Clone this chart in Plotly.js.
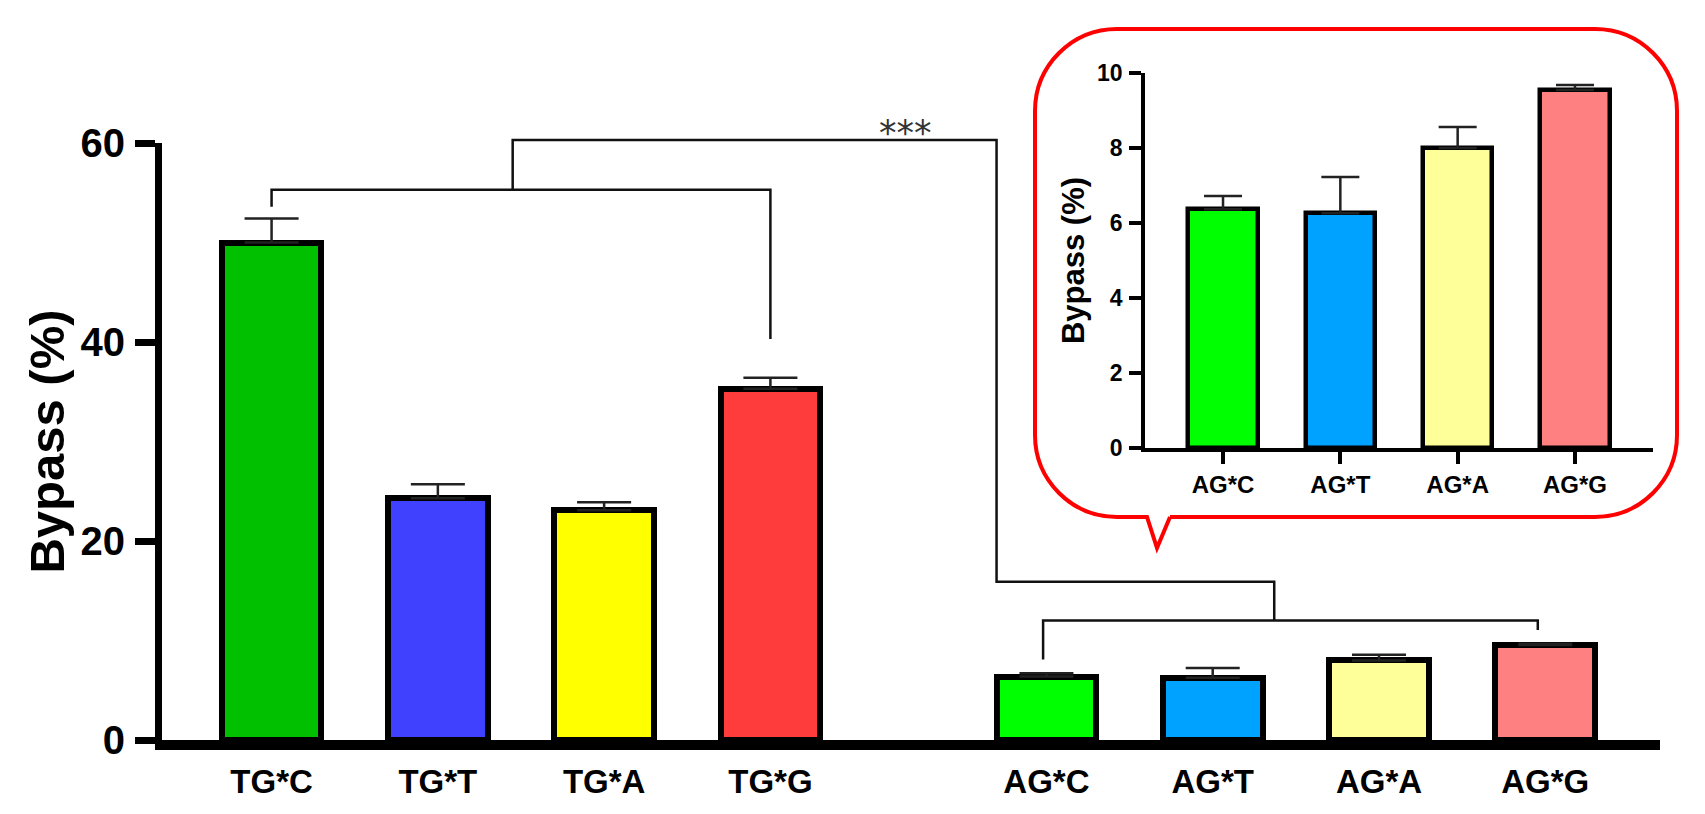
<!DOCTYPE html>
<html>
<head>
<meta charset="utf-8">
<script src="https://cdn.plot.ly/plotly-3.0.1.min.js"></script>
<style>
  html, body { margin: 0; padding: 0; background: #fff; }
  #graph { width: 1705px; height: 814px; }
</style>
</head>
<body>
<div id="graph"></div>
<script>
// values
var tgCats = ['TG*C', 'TG*T', 'TG*A', 'TG*G'];
var agCats = ['AG*C', 'AG*T', 'AG*A', 'AG*G'];
var tgVals = [50.0, 24.3, 23.1, 35.3];
var tgErr = [2.4, 1.4, 0.8, 1.1];
var agVals = [6.37, 6.26, 8.0, 9.55];
var agErr = [0.35, 0.97, 0.56, 0.13];
var tgColors = ['#00c000', '#4040ff', '#ffff00', '#ff3c3c'];
var agColors = ['#00ff00', '#00a2ff', '#ffff99', '#ff8080'];
var yTicks = [0, 20, 40, 60];
var insetTicks = [0, 2, 4, 6, 8, 10];

var W = 1705, H = 814;
var FONT = 'Liberation Sans, Arial, sans-serif';
var groupGap = 0.66;

var tgX = tgCats.map(function (c, i) { return i; });
var agX = agCats.map(function (c, i) { return 4 + groupGap + i; });

// main axes geometry
var xr = [-0.659, 8.35], yr = [0, 60];
var xd = [162 / W, 1660 / W], yd = [1 - 740 / H, 1 - 143 / H];
// inset axes geometry
var x2d = [1145 / W, 1653 / W], y2d = [1 - 448 / H, 1 - 73 / H];

function mx(v) { return xd[0] + (v - xr[0]) / (xr[1] - xr[0]) * (xd[1] - xd[0]); }
function my(v) { return yd[0] + (v - yr[0]) / (yr[1] - yr[0]) * (yd[1] - yd[0]); }
function px(x) { return x / W; }
function py(y) { return 1 - y / H; }

function zeros(a) { return a.map(function () { return 0; }); }

function barTrace(x, y, err, colors, xa, ya, w, lw, capw) {
  return {
    type: 'bar',
    x: x, y: y,
    xaxis: xa, yaxis: ya,
    width: w,
    marker: { color: colors, line: { color: '#000', width: lw } },
    error_y: {
      type: 'data', symmetric: false, array: err, arrayminus: zeros(err),
      color: '#222', thickness: 2.5, width: capw
    },
    hoverinfo: 'x+y',
    showlegend: false
  };
}

var data = [
  barTrace(tgX, tgVals, tgErr, tgColors, 'x', 'y', 0.6, 6, 27),
  barTrace(agX, agVals, agErr, agColors, 'x', 'y', 0.6, 6, 27),
  barTrace(agCats, agVals, agErr, agColors, 'x2', 'y2', 0.59, 4.5, 19)
];

// significance brackets, in main data units
function seg(pts) {
  return pts.map(function (p, i) {
    return (i ? 'L' : 'M') + mx(p[0]).toFixed(5) + ',' + my(p[1]).toFixed(5);
  }).join(' ');
}
var lineStyle = { color: '#111', width: 2.5 };
var brackets = [
  [[0, 53.6], [0, 55.3], [3, 55.3], [3, 40.3]],
  [[1.45, 55.3], [1.45, 60.3], [4.36, 60.3], [4.36, 15.9], [6.03, 15.9], [6.03, 12.0]],
  [[4.64, 8.1], [4.64, 12.0], [7.615, 12.0], [7.615, 11.05]]
];
var shapes = brackets.map(function (b) {
  return { type: 'path', xref: 'paper', yref: 'paper', path: seg(b), line: lineStyle };
});

// red callout box around the inset
function callout(l, t, r, b, rad, tipL, tipX, tipR, tipY) {
  var k = rad * 0.552;
  var P = function (x, y) { return px(x).toFixed(5) + ',' + py(y).toFixed(5); };
  return 'M' + P(tipR, b) +
    ' L' + P(r - rad, b) +
    ' C' + P(r - rad + k, b) + ' ' + P(r, b - rad + k) + ' ' + P(r, b - rad) +
    ' L' + P(r, t + rad) +
    ' C' + P(r, t + rad - k) + ' ' + P(r - rad + k, t) + ' ' + P(r - rad, t) +
    ' L' + P(l + rad, t) +
    ' C' + P(l + rad - k, t) + ' ' + P(l, t + rad - k) + ' ' + P(l, t + rad) +
    ' L' + P(l, b - rad) +
    ' C' + P(l, b - rad + k) + ' ' + P(l + rad - k, b) + ' ' + P(l + rad, b) +
    ' L' + P(tipL, b) +
    ' L' + P(tipX, tipY) +
    ' L' + P(tipR, b);
}
shapes.push({
  type: 'path', xref: 'paper', yref: 'paper',
  path: callout(1035, 29, 1677, 517, 82, 1147, 1157, 1170, 548),
  line: { color: '#ff0000', width: 4 }
});

var layout = {
  width: W,
  height: H,
  margin: { l: 0, r: 0, t: 0, b: 0 },
  paper_bgcolor: '#fff',
  plot_bgcolor: 'rgba(0,0,0,0)',
  bargap: 0,
  xaxis: {
    domain: xd,
    range: xr,
    tickvals: tgX.concat(agX),
    ticktext: tgCats.concat(agCats),
    showgrid: false, zeroline: false,
    showline: true, linecolor: '#000', linewidth: 10,
    ticks: '',
    ticklabelstandoff: 3,
    tickfont: { family: FONT, size: 33, color: '#000', weight: 700 },
    fixedrange: true
  },
  yaxis: {
    domain: yd,
    range: yr,
    tickvals: yTicks,
    showgrid: false, zeroline: false,
    showline: true, linecolor: '#000', linewidth: 7,
    ticks: 'outside', ticklen: 20, tickwidth: 7, tickcolor: '#000',
    ticklabelstandoff: 2,
    tickfont: { family: FONT, size: 40, color: '#000', weight: 700 },
    title: { text: 'Bypass (%)', standoff: 3, font: { family: FONT, size: 49, color: '#000', weight: 700 } },
    fixedrange: true
  },
  xaxis2: {
    domain: x2d,
    anchor: 'y2',
    type: 'category',
    range: [-0.665, 3.665],
    showgrid: false, zeroline: false,
    showline: true, linecolor: '#000', linewidth: 3.5,
    ticks: 'outside', ticklen: 12, tickwidth: 3.5, tickcolor: '#000',
    tickfont: { family: FONT, size: 24, color: '#000', weight: 700 },
    fixedrange: true
  },
  yaxis2: {
    domain: y2d,
    anchor: 'x2',
    range: [0, 10],
    tickvals: insetTicks,
    showgrid: false, zeroline: false,
    showline: true, linecolor: '#000', linewidth: 3.5,
    ticks: 'outside', ticklen: 12, tickwidth: 3.5, tickcolor: '#000',
    ticklabelstandoff: 2,
    tickfont: { family: FONT, size: 23, color: '#000', weight: 700 },
    title: { text: 'Bypass (%)', standoff: 4, font: { family: FONT, size: 31, color: '#000', weight: 700 } },
    fixedrange: true
  },
  shapes: shapes,
  annotations: [{
    xref: 'paper', yref: 'paper',
    x: mx(3.81), y: my(61.0),
    xanchor: 'center', yanchor: 'middle',
    text: '***',
    showarrow: false,
    font: { family: 'DejaVu Sans, sans-serif', size: 35, color: '#333' }
  }]
};

var config = { displayModeBar: false, responsive: false };

Plotly.newPlot('graph', data, layout, config);
</script>
</body>
</html>
